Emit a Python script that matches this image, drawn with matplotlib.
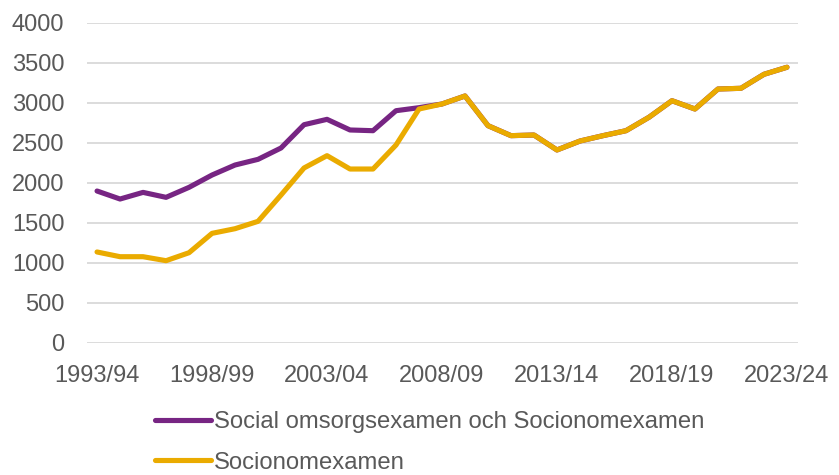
import numpy as np
import matplotlib.pyplot as plt

years = ['1993/94', '1994/95', '1995/96', '1996/97', '1997/98', '1998/99', '1999/00',
         '2000/01', '2001/02', '2002/03', '2003/04', '2004/05', '2005/06', '2006/07',
         '2007/08', '2008/09', '2009/10', '2010/11', '2011/12', '2012/13', '2013/14',
         '2014/15', '2015/16', '2016/17', '2017/18', '2018/19', '2019/20', '2020/21',
         '2021/22', '2022/23', '2023/24']

# Social omsorgsexamen och Socionomexamen
social = [1896, 1796, 1879, 1817, 1942, 2096, 2221, 2292, 2434, 2725, 2792, 2659,
          2650, 2900, 2938, 2984, 3084, 2713, 2588, 2596, 2409, 2521, 2588, 2650,
          2818, 3025, 2921, 3171, 3180, 3355, 3443]

# Socionomexamen
socionom = [1134, 1075, 1075, 1025, 1125, 1367, 1425, 1517, 1846, 2184, 2338, 2171,
            2171, 2471, 2921, 2984, 3084, 2713, 2588, 2596, 2409, 2521, 2588, 2650,
            2818, 3025, 2921, 3171, 3180, 3355, 3443]

labels = ['Social omsorgsexamen och Socionomexamen', 'Socionomexamen']
purple = '#772583'
yellow = '#EAAB00'
grey = '#595959'

plt.rcParams['font.family'] = ['Liberation Sans', 'DejaVu Sans']

fig = plt.figure(figsize=(8.39, 4.75), dpi=100)
ax = fig.add_axes([86.7 / 839, 1 - 342.7 / 475, (798 - 86.7) / 839, 320 / 475])

x = np.arange(len(years))
ax.plot(x, social, color=purple, lw=3.7, solid_capstyle='round', solid_joinstyle='round', label=labels[0])
ax.plot(x, socionom, color=yellow, lw=3.7, solid_capstyle='round', solid_joinstyle='round', label=labels[1])

ax.set_ylim(0, 4000)
ax.set_yticks(np.arange(0, 4001, 500))
ax.set_xlim(-0.45, len(years) - 1 + 0.48)
ax.set_xticks(x[::5])
ax.set_xticklabels(years[::5])

ax.grid(axis='y', color='#D9D9D9', lw=1.3)
ax.set_axisbelow(True)
for s in ax.spines.values():
    s.set_visible(False)
ax.tick_params(axis='both', length=0, labelsize=17, labelcolor=grey)
ax.tick_params(axis='y', pad=16)
ax.tick_params(axis='x', pad=16)

fig.legend(loc='upper left', bbox_to_anchor=(155 / 839, 1 - 411 / 475), frameon=False,
           fontsize=17.2, handlelength=2.33, handletextpad=0.13, labelspacing=0.78,
           borderpad=0, borderaxespad=0, labelcolor=grey)

fig.savefig('out.png', dpi=100)
